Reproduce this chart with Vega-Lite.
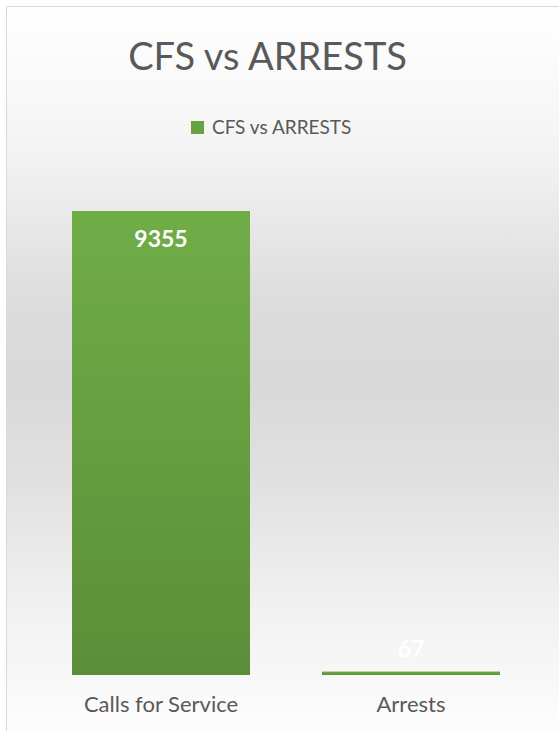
{
  "$schema": "https://vega.github.io/schema/vega-lite/v6.json",
  "width": 553,
  "height": 725,
  "padding": {"left": 6, "top": 6, "right": 0, "bottom": 0},
  "autosize": {"type": "pad"},
  "background": "#ffffff",
  "view": {
    "fill": {"gradient": "linear", "x1": 0, "y1": 0, "x2": 0, "y2": 1, "stops": [
      {"offset": 0, "color": "#ffffff"},
      {"offset": 0.13, "color": "#f8f8f8"},
      {"offset": 0.2, "color": "#f3f3f3"},
      {"offset": 0.41, "color": "#dcdcdc"},
      {"offset": 0.52, "color": "#d9d9d9"},
      {"offset": 0.65, "color": "#e0e0e0"},
      {"offset": 0.82, "color": "#f0f0f0"},
      {"offset": 1, "color": "#fdfdfd"}
    ]},
    "stroke": "#d9d9d9",
    "strokeWidth": 1
  },
  "title": {
    "text": "CFS vs ARRESTS",
    "font": "Lato",
    "fontSize": 38,
    "fontWeight": "normal",
    "color": "#595959",
    "anchor": "middle",
    "frame": "group",
    "baseline": "alphabetic",
    "offset": -102,
    "dx": -15
  },
  "data": {
    "values": [
      {"category": "Calls for Service", "value": 9355, "series": "CFS vs ARRESTS"},
      {"category": "Arrests", "value": 67, "series": "CFS vs ARRESTS"}
    ]
  },
  "encoding": {
    "x": {
      "field": "category",
      "type": "nominal",
      "sort": null,
      "scale": {"paddingInner": 0.288, "paddingOuter": 0.25, "align": 0.528},
      "axis": {
        "title": null,
        "domain": false,
        "ticks": false,
        "labelAngle": 0,
        "labelFont": "Lato",
        "labelFontSize": 22,
        "labelColor": "#595959",
        "labelPadding": 0,
        "offset": -37
      }
    },
    "y": {
      "field": "value",
      "type": "quantitative",
      "scale": {"domain": [-1130, 13490], "nice": false},
      "axis": null
    }
  },
  "layer": [
    {
      "mark": {"type": "bar"},
      "encoding": {
        "color": {
          "field": "series",
          "type": "nominal",
          "scale": {"range": ["#67a342"]},
          "legend": {
            "title": null,
            "orient": "none",
            "legendX": 182,
            "legendY": 112,
            "symbolType": "square",
            "symbolSize": 169,
            "symbolStrokeWidth": 0,
            "labelFont": "Lato",
            "labelFontSize": 19,
            "labelColor": "#595959",
            "labelOffset": 5
          }
        }
      }
    },
    {
      "mark": {
        "type": "bar",
        "fill": {"gradient": "linear", "x1": 0, "y1": 0, "x2": 0, "y2": 1, "stops": [
          {"offset": 0, "color": "#70ad47"},
          {"offset": 1, "color": "#5b8e39"}
        ]}
      }
    },
    {
      "transform": [{"filter": "datum.value > 1000"}],
      "mark": {"type": "text", "font": "Lato", "fontSize": 23, "fontWeight": "bold", "color": "#ffffff", "baseline": "middle", "dy": 29},
      "encoding": {"text": {"field": "value", "type": "quantitative", "format": "d"}}
    },
    {
      "transform": [{"filter": "datum.value <= 1000"}],
      "mark": {"type": "text", "font": "Lato", "fontSize": 23, "fontWeight": "bold", "color": "#ffffff", "baseline": "middle", "dy": -22},
      "encoding": {"text": {"field": "value", "type": "quantitative", "format": "d"}}
    }
  ]
}
